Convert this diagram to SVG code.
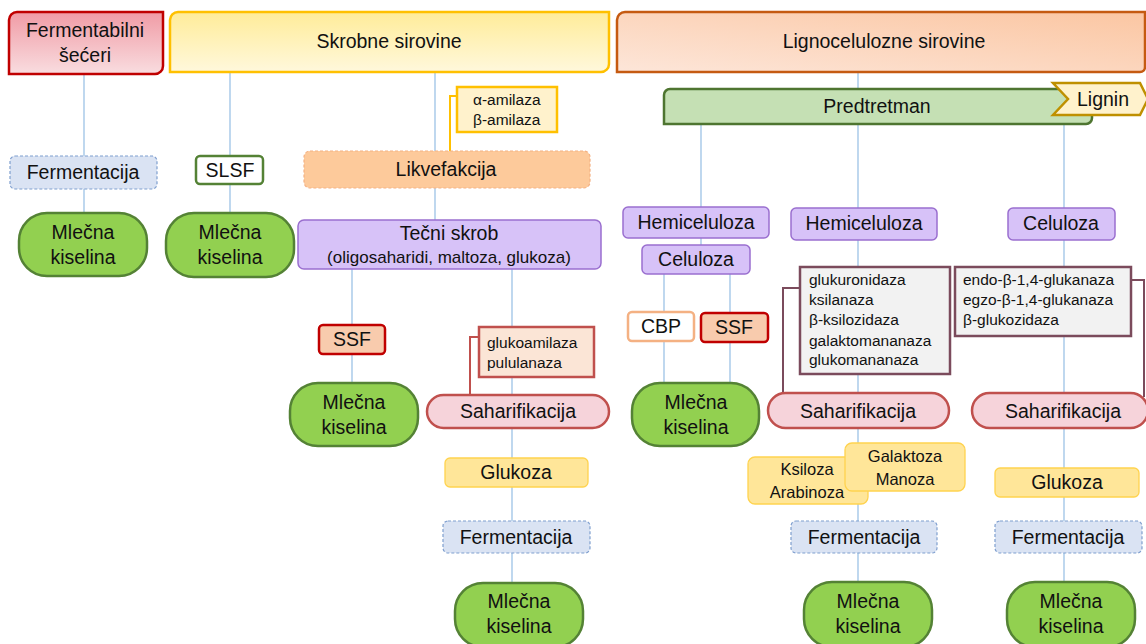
<svg xmlns="http://www.w3.org/2000/svg" width="1146" height="644" viewBox="0 0 1146 644">
<style>
text{font-family:"Liberation Sans",Arial,sans-serif;fill:#111;}
.t{font-size:19.5px;text-anchor:middle;}
.s{font-size:15.5px;}
.sm{font-size:16.5px;text-anchor:middle;}
.con{stroke:#9dc3e6;stroke-width:1.3;fill:none;}
.mk{fill:#92d050;stroke:#548235;stroke-width:2.5;}
.pur{fill:#d7c2f8;stroke:#9a6fcf;stroke-width:1.5;}
.fer{fill:#dae3f3;stroke:#7f9fcf;stroke-width:1.2;stroke-dasharray:3 2;}
.ssf{fill:#f8cbad;stroke:#c00000;stroke-width:2.5;}
.sah{fill:#f6d3da;stroke:#c0504d;stroke-width:2.5;}
.glu{fill:#ffe699;stroke:#ffd34f;stroke-width:1.3;}
.enz{fill:#f2f2f2;stroke:#7b4b5c;stroke-width:2.5;}
.enzc{fill:none;stroke:#7b4b5c;stroke-width:2;}
</style>
<defs>
<linearGradient id="gRed" x1="0" y1="0" x2="0" y2="1"><stop offset="0" stop-color="#f09ba5"/><stop offset="1" stop-color="#f9dde0"/></linearGradient>
<linearGradient id="gYel" x1="0" y1="0" x2="0" y2="1"><stop offset="0" stop-color="#ffec99"/><stop offset="1" stop-color="#fff8dc"/></linearGradient>
<linearGradient id="gOra" x1="1" y1="0" x2="0" y2="1"><stop offset="0" stop-color="#fbc6a2"/><stop offset="1" stop-color="#fde6d9"/></linearGradient>
</defs>

<g id="connectors">
<path class="con" d="M84,74V156M84,189V213"/>
<path class="con" d="M230,72V156M230,184V213"/>
<path class="con" d="M435,72V151M435,188V220"/>
<path class="con" d="M352,269V325M352,354V383"/>
<path class="con" d="M512,269V395M512,428V458M512,487V521M512,553V584"/>
<path class="con" d="M858,72V89"/>
<path class="con" d="M701,124V207M701,238V245"/>
<path class="con" d="M664,273V312M664,341V383M730,273V313M730,342V383"/>
<path class="con" d="M858,124V208M858,240V393M858,428V521M858,553V583"/>
<path class="con" d="M1064,124V208M1064,240V393M1064,428V469M1064,497V521M1064,553V583"/>
<path d="M457,96H450V151" fill="none" stroke="#ffc000" stroke-width="2"/>
<path d="M479,337H470V395" fill="none" stroke="#c0504d" stroke-width="2"/>
<path class="enzc" d="M800,288H783V395"/>
<path class="enzc" d="M1131,280H1144V397"/>
</g>

<g id="fermentabilni">
<path d="M9,20A8,8 0 0 1 17,12H163V66A8,8 0 0 1 155,74H9Z" fill="url(#gRed)" stroke="#c00000" stroke-width="2.5"/>
<text class="t" x="85" y="37">Fermentabilni</text>
<text class="t" x="85" y="62">šećeri</text>
</g>
<g id="skrobne">
<path d="M170,20A8,8 0 0 1 178,12H609V64A8,8 0 0 1 601,72H170Z" fill="url(#gYel)" stroke="#ffc000" stroke-width="2.5"/>
<text class="t" x="389" y="48">Skrobne sirovine</text>
</g>
<g id="lignocelulozne">
<path d="M617,20A8,8 0 0 1 625,12H1145V67A5,5 0 0 1 1140,72H617Z" fill="url(#gOra)" stroke="#c55a11" stroke-width="2.5"/>
<text class="t" x="884" y="48">Lignocelulozne sirovine</text>
</g>

<g id="fermentacija1"><rect class="fer" x="10" y="156" width="147" height="33" rx="5"/><text class="t" x="83" y="179">Fermentacija</text></g>
<g id="slsf"><rect x="196" y="156" width="67" height="28" rx="4" fill="#fff" stroke="#548235" stroke-width="2.5"/><text class="t" x="230" y="177">SLSF</text></g>
<g id="mlecna1"><rect class="mk" x="19" y="213" width="128" height="63" rx="28"/><text class="t" x="83" y="239">Mlečna</text><text class="t" x="83" y="264">kiselina</text></g>
<g id="mlecna2"><rect class="mk" x="166" y="213" width="128" height="64" rx="28"/><text class="t" x="230" y="239">Mlečna</text><text class="t" x="230" y="264">kiselina</text></g>

<g id="amilaze"><rect x="457" y="87" width="100" height="45" fill="#fff2cc" stroke="#ffc000" stroke-width="2.5"/><text class="s" x="473" y="105">α-amilaza</text><text class="s" x="473" y="125">β-amilaza</text></g>
<g id="likvefakcija"><rect x="304" y="151" width="286" height="37" rx="6" fill="#fdca9b" stroke="#f4b183" stroke-width="1.2" stroke-dasharray="3 2"/><text class="t" x="446" y="176">Likvefakcija</text></g>
<g id="tecni"><rect class="pur" x="298" y="220" width="303" height="49" rx="6"/><text class="t" x="449" y="240">Tečni skrob</text><text x="449" y="263" style="font-size:17px;text-anchor:middle">(oligosaharidi, maltoza, glukoza)</text></g>
<g id="ssf1"><rect class="ssf" x="319" y="325" width="66" height="29" rx="4"/><text class="t" x="352" y="346">SSF</text></g>
<g id="mlecna3"><rect class="mk" x="290" y="383" width="128" height="63" rx="28"/><text class="t" x="354" y="409">Mlečna</text><text class="t" x="354" y="434">kiselina</text></g>
<g id="glukoamilaza"><rect x="479" y="327" width="115" height="50" fill="#fbe5d6" stroke="#c0504d" stroke-width="2.5"/><text class="s" x="487" y="348">glukoamilaza</text><text class="s" x="487" y="368">pululanaza</text></g>
<g id="saharifikacija1"><rect class="sah" x="427" y="395" width="182" height="33" rx="16.5"/><text class="t" x="518" y="418">Saharifikacija</text></g>
<g id="glukoza1"><rect class="glu" x="445" y="458" width="143" height="29" rx="5"/><text class="t" x="516" y="479">Glukoza</text></g>
<g id="fermentacija2"><rect class="fer" x="443" y="521" width="147" height="32" rx="5"/><text class="t" x="516" y="544">Fermentacija</text></g>
<g id="mlecna5"><rect class="mk" x="455" y="583" width="128" height="64" rx="28"/><text class="t" x="519" y="608">Mlečna</text><text class="t" x="519" y="633">kiselina</text></g>

<g id="predtretman"><path d="M664,95A6,6 0 0 1 670,89H1092V118A6,6 0 0 1 1086,124H664Z" fill="#c5e0b4" stroke="#4e7530" stroke-width="2.5"/><text class="t" x="877" y="113">Predtretman</text></g>
<g id="lignin"><polygon points="1053,83 1140,83 1148,99 1140,115 1053,115 1068,99" fill="#fff2cc" stroke="#bf9000" stroke-width="2.5"/><text class="t" x="1103" y="106">Lignin</text></g>

<g id="hemiceluloza1"><rect class="pur" x="623" y="207" width="146" height="31" rx="5"/><text class="t" x="696" y="229">Hemiceluloza</text></g>
<g id="celuloza1"><rect class="pur" x="642" y="245" width="108" height="29" rx="5"/><text class="t" x="696" y="266">Celuloza</text></g>
<g id="cbp"><rect x="628" y="312" width="66" height="29" rx="4" fill="#fff" stroke="#f4b183" stroke-width="2.5"/><text class="t" x="661" y="333">CBP</text></g>
<g id="ssf2"><rect class="ssf" x="701" y="313" width="67" height="29" rx="4"/><text class="t" x="734" y="334">SSF</text></g>
<g id="mlecna4"><rect class="mk" x="632" y="383" width="127" height="63" rx="28"/><text class="t" x="696" y="409">Mlečna</text><text class="t" x="696" y="434">kiselina</text></g>

<g id="hemiceluloza2"><rect class="pur" x="791" y="208" width="146" height="32" rx="5"/><text class="t" x="864" y="230">Hemiceluloza</text></g>
<g id="enzimi2"><rect class="enz" x="800" y="267" width="150" height="107"/>
<text class="s" x="809" y="285">glukuronidaza</text><text class="s" x="809" y="305">ksilanaza</text><text class="s" x="809" y="325">β-ksilozidaza</text><text class="s" x="809" y="346">galaktomananaza</text><text class="s" x="809" y="365">glukomananaza</text></g>
<g id="saharifikacija2"><rect class="sah" x="768" y="393" width="181" height="35" rx="17.5"/><text class="t" x="858" y="418">Saharifikacija</text></g>
<g id="ksiloza"><rect class="glu" x="748" y="457" width="120" height="47" rx="7"/><text class="sm" x="807" y="475">Ksiloza</text><text class="sm" x="807" y="498">Arabinoza</text></g>
<g id="galaktoza"><rect class="glu" x="845" y="443" width="120" height="48" rx="7"/><text class="sm" x="905" y="462">Galaktoza</text><text class="sm" x="905" y="485">Manoza</text></g>
<g id="fermentacija3"><rect class="fer" x="791" y="521" width="146" height="32" rx="5"/><text class="t" x="864" y="544">Fermentacija</text></g>
<g id="mlecna6"><rect class="mk" x="804" y="582" width="128" height="65" rx="28"/><text class="t" x="868" y="608">Mlečna</text><text class="t" x="868" y="633">kiselina</text></g>

<g id="celuloza3"><rect class="pur" x="1008" y="208" width="107" height="32" rx="5"/><text class="t" x="1061" y="230">Celuloza</text></g>
<g id="enzimi3"><rect class="enz" x="955" y="267" width="176" height="69"/>
<text class="s" x="963" y="285">endo-β-1,4-glukanaza</text><text class="s" x="963" y="305">egzo-β-1,4-glukanaza</text><text class="s" x="963" y="325">β-glukozidaza</text></g>
<g id="saharifikacija3"><rect class="sah" x="972" y="393" width="176" height="35" rx="17.5"/><text class="t" x="1063" y="418">Saharifikacija</text></g>
<g id="glukoza3"><rect class="glu" x="995" y="468" width="144" height="29" rx="5"/><text class="t" x="1067" y="489">Glukoza</text></g>
<g id="fermentacija4"><rect class="fer" x="995" y="521" width="147" height="32" rx="5"/><text class="t" x="1068" y="544">Fermentacija</text></g>
<g id="mlecna7"><rect class="mk" x="1007" y="582" width="128" height="65" rx="28"/><text class="t" x="1071" y="608">Mlečna</text><text class="t" x="1071" y="633">kiselina</text></g>
</svg>
